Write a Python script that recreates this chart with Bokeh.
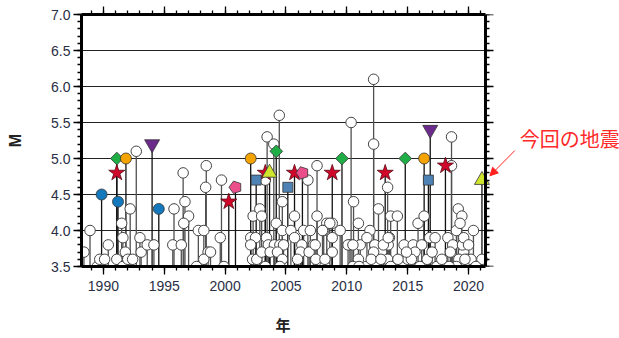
import math
from bokeh.plotting import figure
from bokeh.models import (FixedTicker, LinearAxis, Label, Arrow, NormalHead, Range1d,
                          PrintfTickFormatter, Title)
from bokeh.embed import file_html
from bokeh.resources import INLINE

# ---- data (year, magnitude) ----
white_x = [1988.4, 1988.9, 1989.5, 1989.7, 1990.1, 1990.4, 1991.1, 1991.5, 1991.6, 1991.6,
           1991.8, 1992.0, 1992.2, 1992.4, 1992.7, 1993.0, 1993.1, 1993.6, 1994.15, 1995.8,
           1995.7, 1996.4, 1996.55, 1996.7, 1997.0, 1996.6, 1997.65, 1997.8, 1998.25, 1998.45,
           1998.4, 1998.6, 1998.25, 1998.8, 1999.7, 1999.6, 1999.9, 2002.3, 2002.85, 2003.0,
           2002.1, 2002.5, 2002.1, 2002.25, 2002.6, 2003.45, 2003.3, 2004.0, 2004.45, 2004.7,
           2004.2, 2004.7, 2003.4, 2003.55, 2004.05, 2004.5, 2004.8, 2003.0, 2003.7, 2004.3,
           2004.7, 2003.3, 2004.5, 2005.7, 2006.8, 2005.4, 2006.45, 2007.0, 2006.3, 2007.25,
           2006.2, 2006.9, 2007.45, 2007.55, 2007.55, 2008.8, 2008.35, 2008.1, 2008.8, 2008.2,
           2008.8, 2009.45, 2010.35, 2010.55, 2010.95, 2010.25, 2011.1, 2010.95, 2012.2, 2012.2,
           2012.6, 2011.9, 2011.65, 2012.3, 2012.85, 2012.2, 2013.35, 2013.6, 2014.15, 2013.5,
           2013.4, 2015.85, 2014.7, 2015.45, 2016.15, 2016.35, 2016.8, 2017.25, 2018.6, 2018.6,
           2019.15, 2019.45, 2020.4, 2021.1,
           2007.4, 2008.0, 2008.6, 2010.1, 2010.5, 2013.0, 2013.4, 2005.7, 2005.95, 2008.2,
           2011.6, 2012.4, 2013.35, 2010.5, 2011.0, 2012.0, 2012.8, 2013.6, 2014.6, 2015.0,
           2015.6, 2016.2, 2016.6, 2017.4, 2018.3, 2018.7, 2019.0, 2019.3, 2019.6, 2019.9,
           2018.9, 2019.2, 2019.5, 2019.8, 2020.2, 2018.5, 2019.0, 2019.6, 2020.0, 2015.3,
           2016.0, 2017.0, 2014.2, 2014.9, 2017.8, 2018.4, 2019.7, 2020.6]
white_y = [3.7, 4.0, 3.5, 3.6, 3.6, 3.8, 3.6, 4.1, 3.9, 3.5,
           3.7, 3.6, 4.3, 3.6, 5.1, 3.9, 3.7, 3.8, 3.8, 4.3,
           3.8, 3.8, 4.8, 4.4, 4.2, 4.1, 3.5, 4.0, 4.0, 4.9,
           4.6, 3.7, 3.6, 3.7, 4.7, 3.9, 3.5, 4.2, 4.3, 4.2,
           3.9, 3.9, 3.8, 3.6, 3.6, 5.3, 4.7, 5.2, 5.6, 4.4,
           4.1, 4.0, 3.9, 3.8, 3.8, 3.8, 3.8, 3.7, 3.7, 3.7,
           3.6, 3.5, 3.5, 4.2, 4.7, 4.0, 4.0, 4.0, 3.8, 3.8,
           3.7, 3.7, 3.6, 4.9, 4.2, 4.1, 4.1, 4.0, 3.9, 3.5,
           3.7, 4.0, 5.5, 4.4, 4.1, 3.8, 3.8, 3.6, 6.1, 5.2,
           4.3, 4.0, 3.9, 3.8, 3.7, 3.7, 4.6, 4.2, 4.2, 3.9,
           3.8, 4.1, 3.8, 3.8, 3.8, 4.2, 3.9, 3.9, 5.3, 4.9,
           4.3, 4.2, 4.0, 3.6,
           3.8, 4.0, 4.1, 3.8, 3.8, 3.8, 3.9, 3.9, 3.6, 3.6,
           3.5, 3.5, 3.6, 3.5, 3.5, 3.6, 3.6, 3.5, 3.5, 3.6,
           3.7, 3.5, 3.6, 3.5, 3.9, 3.8, 4.0, 4.1, 3.7, 3.6,
           3.5, 3.6, 3.8, 3.5, 3.6, 3.7, 3.5, 3.9, 3.8, 3.6,
           3.5, 3.7, 3.6, 3.7, 3.6, 3.5, 3.6, 3.5]

blue_circle_x = [1989.85, 1991.2, 1994.55]
blue_circle_y = [4.5, 4.4, 4.3]
green_diamond_x = [1991.1, 2004.2, 2009.6, 2014.8]
green_diamond_y = [5.0, 5.1, 5.0, 5.0]
orange_circle_x = [1991.85, 2002.1, 2016.35]
orange_circle_y = [5.0, 5.0, 5.0]
red_star_x = [1991.1, 2000.3, 2003.3, 2005.7, 2008.8, 2013.15, 2018.1]
red_star_y = [4.8, 4.4, 4.8, 4.8, 4.8, 4.8, 4.9]
purple_tri_x = [1994.0, 2016.85]
purple_tri_y = [5.2, 5.4]
pink_pent_x = [2000.85, 2006.35]
pink_pent_y = [4.6, 4.8]
blue_square_x = [2002.55, 2005.15, 2016.7]
blue_square_y = [4.7, 4.6, 4.7]
yellow_tri_x = [2003.65, 2021.1]
yellow_tri_y = [4.8, 4.7]

latest_label = "今回の地震"
x_title = "年"
y_title = "M"
x_major = [1990, 1995, 2000, 2005, 2010, 2015, 2020]
y_major = [3.5, 4.0, 4.5, 5.0, 5.5, 6.0, 6.5, 7.0]
y_grid = [4.0, 4.5, 5.0, 5.5, 6.0, 6.5]

X0, X1 = 1988.2, 2021.4          # extent of the plotted box (years)
Y0, Y1 = 3.5, 7.0
X_VIEW_END = 2032.4              # extra room on the right for the note
BASE = Y0
TICK_FONT = "Liberation Sans"
TICK_COLOR = "#2a2f45"

p = figure(width=619, height=338, output_backend="svg", toolbar_location=None,
           x_range=Range1d(X0, X_VIEW_END), y_range=Range1d(Y0, Y1),
           min_border_left=81, min_border_right=0, min_border_top=14, min_border_bottom=72)
p.outline_line_color = None
p.background_fill_color = "white"
p.border_fill_color = "white"
p.xgrid.visible = False
p.ygrid.visible = False

x_minor = list(range(1989, 2022))
y_minor = [round(3.5 + 0.1 * i, 1) for i in range(36)]


def style_axis(ax, xdir, show_labels):
    ax.axis_line_width = 3
    ax.axis_line_color = "black"
    ax.major_tick_line_color = "black"
    ax.minor_tick_line_color = "black"
    ax.major_tick_line_width = 1.3
    ax.minor_tick_line_width = 1.3
    ax.major_tick_in = 0
    ax.minor_tick_in = 0
    ax.major_tick_out = 8
    ax.minor_tick_out = 4
    ax.major_label_text_font = TICK_FONT
    ax.major_label_text_font_size = "14px"
    ax.major_label_text_color = TICK_COLOR
    if xdir:
        ax.ticker = FixedTicker(ticks=x_major, minor_ticks=x_minor)
        ax.bounds = (X0, X1)
        if not show_labels:
            ax.major_label_overrides = {t: "" for t in x_major}
    else:
        ax.ticker = FixedTicker(ticks=y_major, minor_ticks=y_minor)
        ax.formatter = PrintfTickFormatter(format="%.1f")
        if not show_labels:
            ax.major_label_overrides = {t: "" for t in y_major}


style_axis(p.xaxis[0], True, True)
style_axis(p.yaxis[0], False, True)
p.xaxis[0].major_label_standoff = 6
p.yaxis[0].major_label_standoff = 3

p.yaxis[0].axis_label = y_title
p.yaxis[0].axis_label_text_font = TICK_FONT
p.yaxis[0].axis_label_text_font_style = "bold"
p.yaxis[0].axis_label_text_font_size = "16px"
p.yaxis[0].axis_label_text_color = "#222222"
p.yaxis[0].axis_label_standoff = 24

top = LinearAxis()
style_axis(top, True, False)
top.major_label_text_font_size = "1px"
top.major_label_standoff = 0
p.add_layout(top, "above")

# right-hand frame axis, drawn at the end of the box, ticks pointing right
right = LinearAxis(fixed_location=X1)
style_axis(right, False, False)
right.major_tick_out = 0
right.minor_tick_out = 0
right.major_tick_in = 8
right.minor_tick_in = 4
right.major_label_text_font_size = "1px"
right.major_label_standoff = 0
p.add_layout(right, "left")

# blank spacer below the x axis (one white tick in the empty corner), so the title sits lower
SPACER_TICK = 2031
spacer = LinearAxis(ticker=FixedTicker(ticks=[SPACER_TICK], minor_ticks=[]),
                    axis_line_color=None, major_tick_out=16, minor_tick_out=0,
                    major_tick_in=0, minor_tick_in=0, major_label_standoff=0,
                    major_tick_line_color="white", minor_tick_line_color="white",
                    major_label_text_font_size="1px",
                    major_label_overrides={SPACER_TICK: ""})
p.add_layout(spacer, "below")

# x axis title centred under the box (not under the whole view)
p.add_layout(Title(text=x_title, align="left", offset=194, standoff=4,
                   text_font="Noto Sans CJK JP", text_font_style="bold",
                   text_font_size="15px", text_color="#222222"), "below")

# horizontal grid lines limited to the box
p.segment(x0=[X0] * len(y_grid), y0=y_grid, x1=[X1] * len(y_grid), y1=y_grid,
          line_color="#222222", line_width=1)

# stems
p.segment(x0=white_x, y0=[BASE] * len(white_x), x1=white_x, y1=white_y,
          line_color="#505050", line_width=1.3)
special_x = (blue_circle_x + green_diamond_x + orange_circle_x + red_star_x + purple_tri_x
             + pink_pent_x + blue_square_x + yellow_tri_x)
special_y = (blue_circle_y + green_diamond_y + orange_circle_y + red_star_y + purple_tri_y
             + pink_pent_y + blue_square_y + yellow_tri_y)
p.segment(x0=special_x, y0=[BASE] * len(special_x), x1=special_x, y1=special_y,
          line_color="#111111", line_width=1.3)

# white circles
p.scatter(white_x, white_y, marker="circle", size=10.5, fill_color="white",
          line_color="#444444", line_width=1)

OUT = "#333333"
p.scatter(blue_circle_x, blue_circle_y, marker="circle", size=11, fill_color="#1478bd",
          line_color=OUT, line_width=0.8)
p.scatter(green_diamond_x, green_diamond_y, marker="square", angle=math.pi / 4, size=9,
          fill_color="#1fae45", line_color=OUT, line_width=0.8)
p.scatter(orange_circle_x, orange_circle_y, marker="circle", size=11, fill_color="#f4a300",
          line_color=OUT, line_width=0.8)
p.scatter(red_star_x, red_star_y, marker="star", size=17, fill_color="#d1072a",
          line_color="#5a0a14", line_width=0.8)
p.scatter(purple_tri_x, purple_tri_y, marker="inverted_triangle", size=15, fill_color="#6b2a8c",
          line_color=OUT, line_width=0.8)
if hasattr(p, "ngon"):
    p.ngon(x=pink_pent_x, y=pink_pent_y, radius=6.5, radius_units="screen", n=5,
           angle=math.pi / 2, fill_color="#ea4f8b", line_color=OUT, line_width=0.8)
else:
    p.scatter(pink_pent_x, pink_pent_y, marker="hex", size=12, fill_color="#ea4f8b",
              line_color=OUT, line_width=0.8)
p.scatter(blue_square_x, blue_square_y, marker="square", size=10, fill_color="#4f82b4",
          line_color=OUT, line_width=0.8)
p.scatter(yellow_tri_x, yellow_tri_y, marker="triangle", size=15, fill_color="#cfe52e",
          line_color=OUT, line_width=0.8)

# annotation for the latest event
p.add_layout(Label(x=2024.2, y=5.28, text=latest_label, text_color="#ff2a2a",
                   text_font="Noto Sans CJK JP", text_font_size="20px",
                   text_baseline="middle", text_align="left"))
p.add_layout(Arrow(x_start=2023.8, y_start=5.11, x_end=2021.75, y_end=4.76,
                   line_color="#ff2020", line_width=1,
                   end=NormalHead(size=8, fill_color="#ff2020", line_color="#ff2020")))

open("out.html", "w").write(file_html(p, INLINE))
